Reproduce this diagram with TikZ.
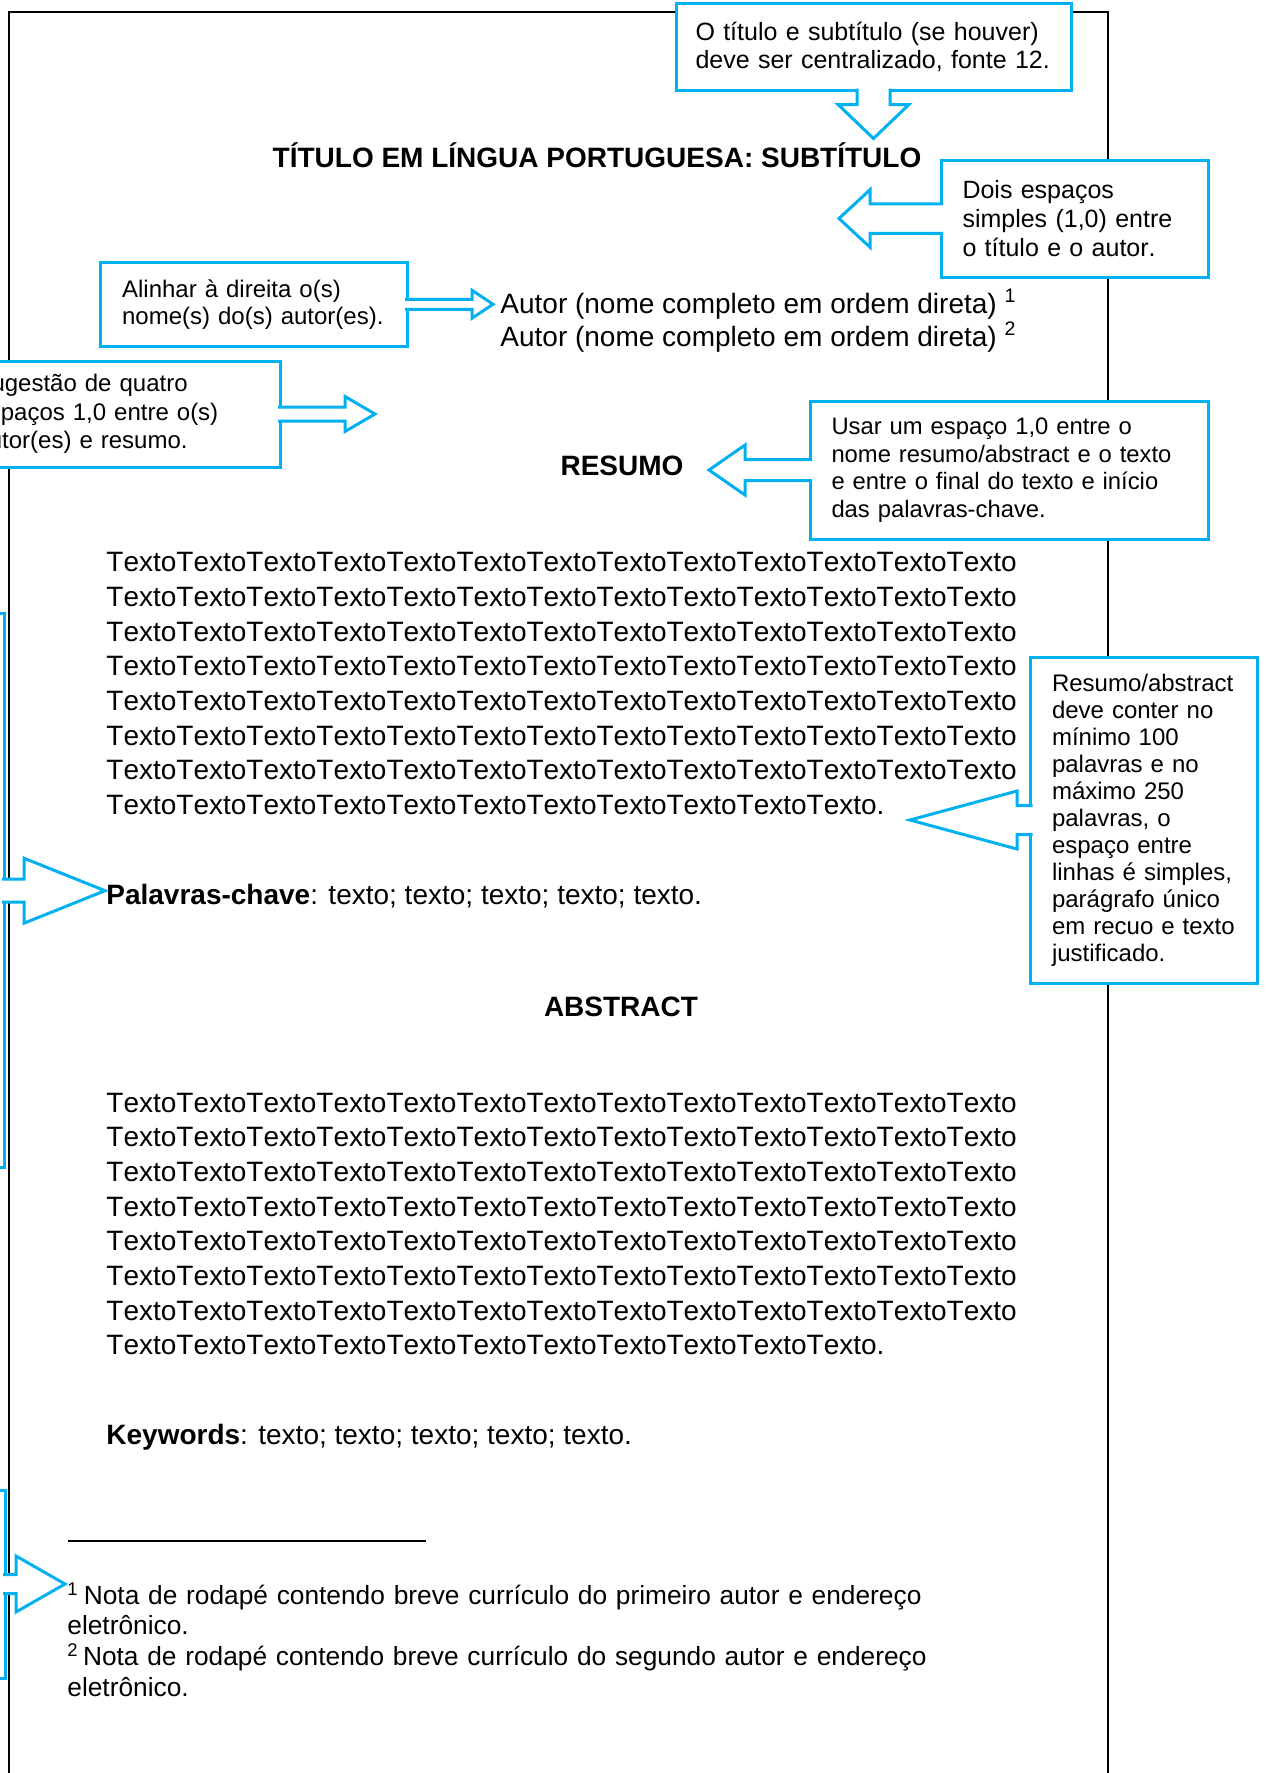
\documentclass[tikz,border=0pt]{standalone}
\usepackage{fontspec}
\setmainfont[Kerning=Off]{Liberation Sans}
\definecolor{notecyan}{HTML}{00B0F0}
\newcommand{\textoline}{TextoTextoTextoTextoTextoTextoTextoTextoTextoTextoTextoTextoTexto}
\newcommand{\textolast}{TextoTextoTextoTextoTextoTextoTextoTextoTextoTextoTexto.}
\newcommand{\textopar}{\textoline\\\textoline\\\textoline\\\textoline\\\textoline\\\textoline\\\textoline\\\textolast}
\tikzset{
  pageline/.style={line width=1.35pt},
  bodytext/.style={inner sep=0pt, font=\fontsize{14pt}{17.35pt}\selectfont},
  heading/.style={inner sep=0pt, font=\fontsize{14pt}{17pt}\selectfont\bfseries},
  callout/.style={draw=notecyan, line width=1.5pt, fill=white, outer sep=0pt,
    inner xsep=10.75pt, inner ysep=0pt, align=left,
    font=\fontsize{12pt}{13.75pt}\selectfont},
  callarrow/.style={draw=notecyan, line width=1.5pt, fill=white}
}
\begin{document}
\begin{tikzpicture}[x=0.5pt,y=-0.5pt]
  \useasboundingbox (0,0) rectangle (1267,1773);
  \clip (0,0) rectangle (1267,1773);
  % page
  \draw[pageline] (9,1790) -- (9,12) -- (1108,12) -- (1108,1790);
  % page text
  \node[heading, anchor=base] (titulo) at (597,167) {TÍTULO EM LÍNGUA PORTUGUESA: SUBTÍTULO};
  \node[bodytext, anchor=base west] (autor1) at (500,313) {Autor (nome completo em ordem direta) \textsuperscript{1}};
  \node[bodytext, anchor=base west] (autor2) at (500,346) {Autor (nome completo em ordem direta) \textsuperscript{2}};
  \node[heading, anchor=base] (resumo) at (622,475.6) {RESUMO};
  \node[bodytext, anchor=base west, text width=470pt, align=left] (restexto) at (106,571.7) {\textopar};
  \node[bodytext, anchor=base west] (palavras) at (106,904) {\textbf{Palavras-chave}: texto; texto; texto; texto; texto.};
  \node[heading, anchor=base] (abstract) at (621,1016) {ABSTRACT};
  \node[bodytext, anchor=base west, text width=470pt, align=left] (abstexto) at (106,1112) {\textopar};
  \node[bodytext, anchor=base west] (keywords) at (106,1444) {\textbf{Keywords}: texto; texto; texto; texto; texto.};
  \coordinate (regraA) at (68,1541);
  \coordinate (regraB) at (426,1541);
  \draw[line width=0.6pt] (regraA) -- (regraB);
  \node[inner sep=0pt, anchor=base west, text width=460pt, align=left,
    font=\fontsize{13.15pt}{15.4pt}\selectfont] (notas) at (67,1604)
    {\textsuperscript{1}\hspace{2.6pt}Nota de rodapé contendo breve currículo do primeiro autor e endereço\\
     eletrônico.\\
     \textsuperscript{2}\,Nota de rodapé contendo breve currículo do segundo autor e endereço\\
     eletrônico.};
  % callouts
  \node[callout, anchor=north west, minimum width=197.5pt, minimum height=43.5pt, text width=178pt,
    inner xsep=9.75pt, font=\fontsize{12.5pt}{14.15pt}\selectfont]
    (boxtitulo) at (676,3.5) {O título e subtítulo (se houver)\\ deve ser centralizado, fonte~12.};
  \filldraw[callarrow] (boxtitulo.south) ++(-16.5,-2) -- ++(0,16) -- ++(-19,0) -- ++(35.5,34)
    -- ++(35.5,-34) -- ++(-19,0) -- ++(0,-16);
  \node[callout, anchor=north west, minimum width=133.5pt, minimum height=58.5pt, text width=112pt,
    font=\fontsize{12.5pt}{14.4pt}\selectfont]
    (boxdois) at (941,160) {Dois espaços\\ simples (1,0) entre\\ o título e o autor.};
  \filldraw[callarrow] (boxdois.west) ++(2,-14.75) -- ++(-73,0) -- ++(0,-14) -- ++(-31,28.75)
    -- ++(31,28.75) -- ++(0,-14) -- ++(73,0);
  \node[callout, anchor=north west, minimum width=153.2pt, minimum height=42.25pt, text width=131.7pt,
    font=\fontsize{12pt}{13.5pt}\selectfont]
    (boxalinhar) at (100.6,262) {Alinhar à direita o(s)\\ nome(s) do(s) autor(es).};
  \filldraw[callarrow] (boxalinhar.east) ++(-2,-5) -- ++(67,0) -- ++(0,-9) -- ++(21,14)
    -- ++(-21,14) -- ++(0,-9) -- ++(-67,0);
  \node[callout, anchor=north west, minimum width=163pt, minimum height=53pt, text width=141.5pt,
    font=\fontsize{12pt}{14.25pt}\selectfont]
    (boxquatro) at (-46,361) {Sugestão de quatro\\ espaços 1,0 entre o(s)\\ autor(es) e resumo.};
  \filldraw[callarrow] (boxquatro.east) ++(-2,-7) -- ++(67,0) -- ++(0,-10.5) -- ++(30,17.5)
    -- ++(-30,17.5) -- ++(0,-10.5) -- ++(-67,0);
  \node[callout, anchor=north west, minimum width=199pt, minimum height=69pt, text width=177.5pt,
    font=\fontsize{11.9pt}{13.75pt}\selectfont]
    (boxespaco) at (810,401) {Usar um espaço 1,0 entre o\\ nome resumo/abstract e o texto\\
    e entre o final do texto e início\\ das palavras-chave.};
  \filldraw[callarrow] (boxespaco.west) ++(2,-10.5) -- ++(-67,0) -- ++(0,-14.5) -- ++(-36,25)
    -- ++(36,25) -- ++(0,-14.5) -- ++(67,0);
  \node[callout, anchor=north west, minimum width=113.5pt, minimum height=163pt, text width=92pt,
    font=\fontsize{12pt}{13.5pt}\selectfont]
    (boxresumo) at (1030.5,657) {Resumo/abstract\\ deve conter no\\ mínimo 100\\ palavras e no\\
    máximo 250\\ palavras, o\\ espaço entre\\ linhas é simples,\\ parágrafo único\\
    em recuo e texto\\ justificado.};
  \filldraw[callarrow] (boxresumo.west) ++(2,-14.5) -- ++(-15.5,0) -- ++(0,-14.5) -- ++(-107,29)
    -- ++(107,29) -- ++(0,-14.5) -- ++(15.5,0);
  \node[callout, anchor=north east, minimum width=127pt, minimum height=277pt]
    (boxpalavras) at (4,613.7) {};
  \filldraw[callarrow] (boxpalavras.east) ++(-2,-11.5) -- ++(22,0) -- ++(0,-21) -- ++(81,32.5)
    -- ++(-81,32.5) -- ++(0,-21) -- ++(-22,0);
  \node[callout, anchor=north east, minimum width=127pt, minimum height=94pt]
    (boxnota) at (5,1490) {};
  \filldraw[callarrow] (boxnota.east) ++(-2,-9.5) -- ++(13,0) -- ++(0,-18.5) -- ++(49,28)
    -- ++(-49,28) -- ++(0,-18.5) -- ++(-13,0);
\end{tikzpicture}
\end{document}
